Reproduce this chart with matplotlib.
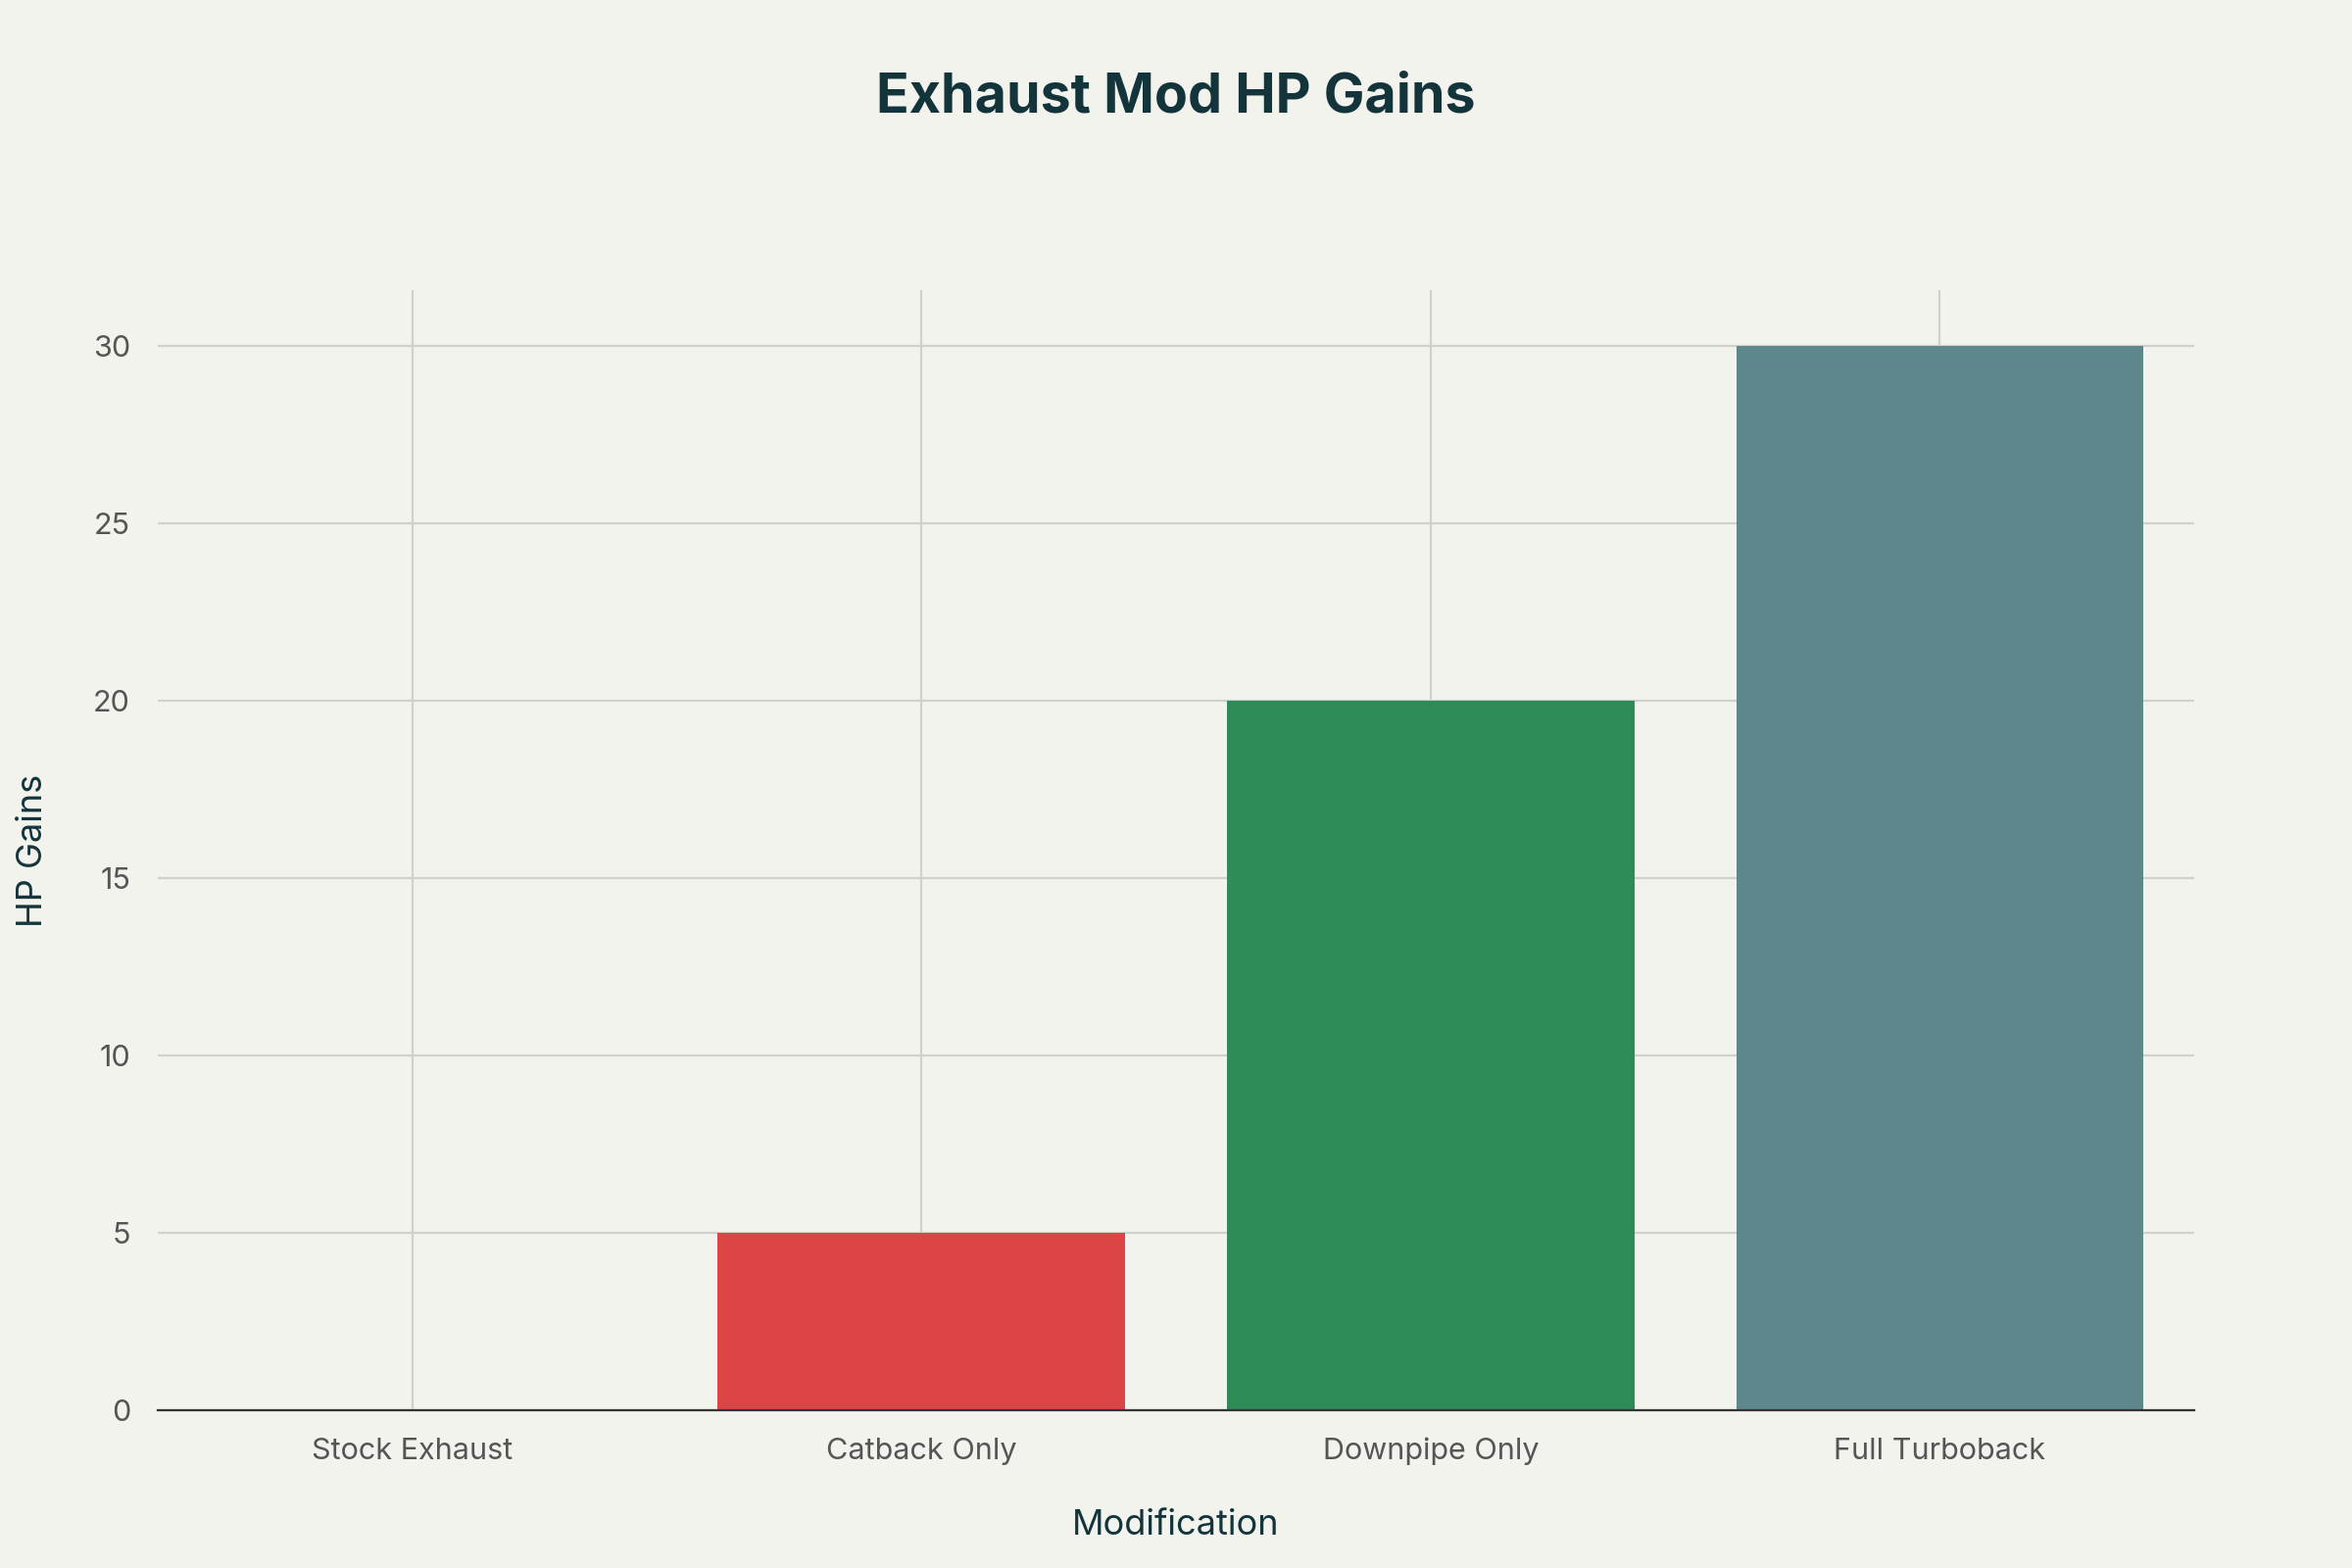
import matplotlib
matplotlib.use('Agg')
import matplotlib.pyplot as plt

plt.rcParams['font.family'] = ['Inter', 'DejaVu Sans']

categories = ['Stock Exhaust', 'Catback Only', 'Downpipe Only', 'Full Turboback']
hp_gains = [0, 5, 20, 30]
colors = ['#1fb8cd', '#db4545', '#2e8b57', '#5d878b']

BG = '#f3f3ee'
DARK = '#13343b'

fig = plt.figure(figsize=(12, 8), dpi=200, facecolor=BG)
ax = fig.add_axes([0.067, 0.1005, 0.866, 0.7145], facecolor=BG)

x = list(range(len(categories)))
ax.bar(x, hp_gains, width=0.8, color=colors, zorder=3)

ax.set_xlim(-0.5, 3.5)
ax.set_ylim(0, 31.56)
ax.set_yticks([0, 5, 10, 15, 20, 25, 30])
ax.set_xticks(x)
ax.set_xticklabels(categories)
ax.grid(True, color='#d0d0cc', linewidth=0.8, zorder=0)
for s in ['top', 'right', 'left']:
    ax.spines[s].set_visible(False)
ax.spines['bottom'].set_color('#333333')
ax.spines['bottom'].set_linewidth(0.8)
ax.spines['bottom'].set_zorder(4)
ax.tick_params(axis='both', length=0, labelsize=11, colors='#555555', pad=10)
ax.tick_params(axis='y', pad=10)

ax.set_xlabel('Modification', fontsize=13, color=DARK, labelpad=16)
ax.set_ylabel('HP Gains', fontsize=13, color=DARK, labelpad=16)
fig.text(0.5, 0.938, 'Exhaust Mod HP Gains', ha='center', va='center',
         fontsize=20, fontweight='bold', color=DARK)

fig.savefig('out.png', facecolor=BG)
